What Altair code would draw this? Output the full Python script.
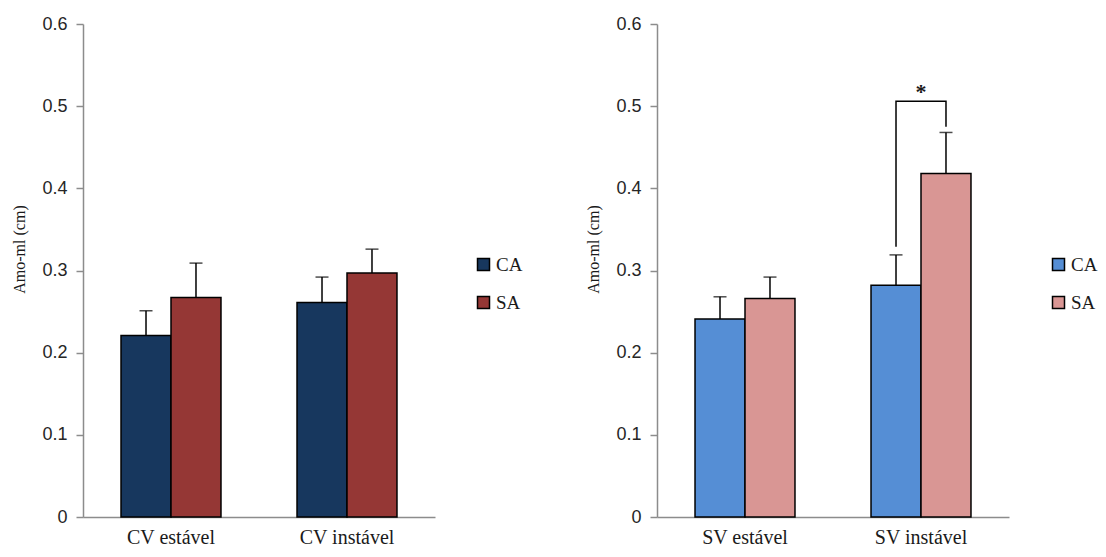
import altair as alt
import pandas as pd

# ---- data ----
groups = ["CA", "SA"]

left_cats = ["CV estável", "CV instável"]
left_ca_mean = [0.221, 0.261]
left_sa_mean = [0.267, 0.297]
left_ca_err = [0.030, 0.031]
left_sa_err = [0.042, 0.029]

right_cats = ["SV estável", "SV instável"]
right_ca_mean = [0.241, 0.282]
right_sa_mean = [0.266, 0.418]
right_ca_err = [0.027, 0.037]
right_sa_err = [0.026, 0.050]

# significance bracket (right panel, "SV instável")
bracket_cat = "SV instável"
bracket_grp = ["CA", "CA", "SA", "SA"]
bracket_val = [0.329, 0.506, 0.506, 0.475]
star_val = 0.517

y_ticks = [0, 0.1, 0.2, 0.3, 0.4, 0.5, 0.6]

left_colors = ["#17375E", "#953735"]
right_colors = ["#558ED5", "#D99694"]

SERIF = "Liberation Serif"
SANS = "Liberation Sans"
AXIS_GRAY = "#8c8c8c"


def make_df(cats, ca_m, sa_m, ca_e, sa_e):
    rows = []
    for i, c in enumerate(cats):
        rows.append({"cat": c, "grp": "CA", "mean": ca_m[i], "upper": ca_m[i] + ca_e[i]})
        rows.append({"cat": c, "grp": "SA", "mean": sa_m[i], "upper": sa_m[i] + sa_e[i]})
    return pd.DataFrame(rows)


def panel(cats, df, colors, legend_x, with_bracket=False):
    x = alt.X(
        "cat:N",
        sort=cats,
        title=None,
        scale=alt.Scale(paddingInner=0.432, paddingOuter=0.216),
        axis=alt.Axis(
            labelAngle=0,
            ticks=False,
            grid=False,
            domainColor=AXIS_GRAY,
            domainWidth=1.5,
            labelFont=SERIF,
            labelFontSize=20,
            labelColor="#1a1a1a",
            labelPadding=10,
        ),
    )
    xo = alt.XOffset("grp:N", sort=groups, scale=alt.Scale(paddingInner=0, paddingOuter=0))
    y_scale = alt.Scale(domain=[0, 0.6], nice=False)
    y_axis = alt.Axis(
        values=y_ticks,
        grid=False,
        title="Amo-ml (cm)",
        titleFont=SERIF,
        titleFontSize=16,
        titleFontWeight="normal",
        titleColor="#1a1a1a",
        titlePadding=14,
        titleY=225,
        labelExpr="datum.value == 0 ? '0' : format(datum.value, '.1f')",
        labelFont=SANS,
        labelFontSize=18,
        labelColor="#262626",
        labelPadding=9,
        domainColor=AXIS_GRAY,
        domainWidth=1.5,
        tickColor=AXIS_GRAY,
        tickWidth=1.5,
        tickSize=7,
    )
    color = alt.Color(
        "grp:N",
        sort=groups,
        scale=alt.Scale(domain=groups, range=colors),
        legend=alt.Legend(
            orient="none",
            legendX=legend_x,
            legendY=231,
            title=None,
            symbolType="square",
            symbolSize=144,
            symbolStrokeColor="black",
            symbolStrokeWidth=1.5,
            labelFont=SERIF,
            labelFontSize=19,
            labelColor="#1a1a1a",
            labelOffset=3,
            rowPadding=18,
        ),
    )

    bars = alt.Chart(df).mark_bar(stroke="black", strokeWidth=1.5).encode(
        x=x, xOffset=xo, y=alt.Y("mean:Q", scale=y_scale, axis=y_axis), color=color
    )
    err = alt.Chart(df).mark_rule(color="black", strokeWidth=1.5).encode(
        x=x, xOffset=xo, y="mean:Q", y2="upper:Q"
    )
    cap = alt.Chart(df).mark_tick(
        orient="horizontal", size=13, thickness=1.5, color="black"
    ).encode(x=x, xOffset=xo, y="upper:Q")
    layers = [bars, err, cap]

    if with_bracket:
        bdf = pd.DataFrame(
            {
                "cat": [bracket_cat] * len(bracket_val),
                "grp": bracket_grp,
                "val": bracket_val,
                "ord": list(range(len(bracket_val))),
            }
        )
        line = alt.Chart(bdf).mark_line(color="black", strokeWidth=1.5).encode(
            x=x, xOffset=xo, y="val:Q", order="ord:Q"
        )
        sdf = pd.DataFrame({"cat": [bracket_cat], "val": [star_val], "lab": ["*"]})
        star = alt.Chart(sdf).mark_text(
            font=SERIF, fontSize=22, fontWeight="bold", color="#1a1a1a", baseline="middle"
        ).encode(x=x, y="val:Q", text="lab:N")
        layers += [line, star]

    return alt.layer(*layers).properties(
        width=352,
        height=493,
        view=alt.ViewBackground(strokeOpacity=0, strokeWidth=0),
    )


left_df = make_df(left_cats, left_ca_mean, left_sa_mean, left_ca_err, left_sa_err)
right_df = make_df(right_cats, right_ca_mean, right_sa_mean, right_ca_err, right_sa_err)

chart = (
    alt.hconcat(
        panel(left_cats, left_df, left_colors, 391),
        panel(right_cats, right_df, right_colors, 392, with_bracket=True),
        spacing=62,
    )
    .resolve_scale(color="independent")
    .resolve_legend(color="independent")
    .properties(
        padding={"left": 3, "top": 7, "right": 0, "bottom": 0},
        background="white",
    )
    .configure_axis(grid=False)
    .configure_view(stroke=None, strokeWidth=0)
)

chart.save("out.html", embed_options={"renderer": "svg", "actions": False})
